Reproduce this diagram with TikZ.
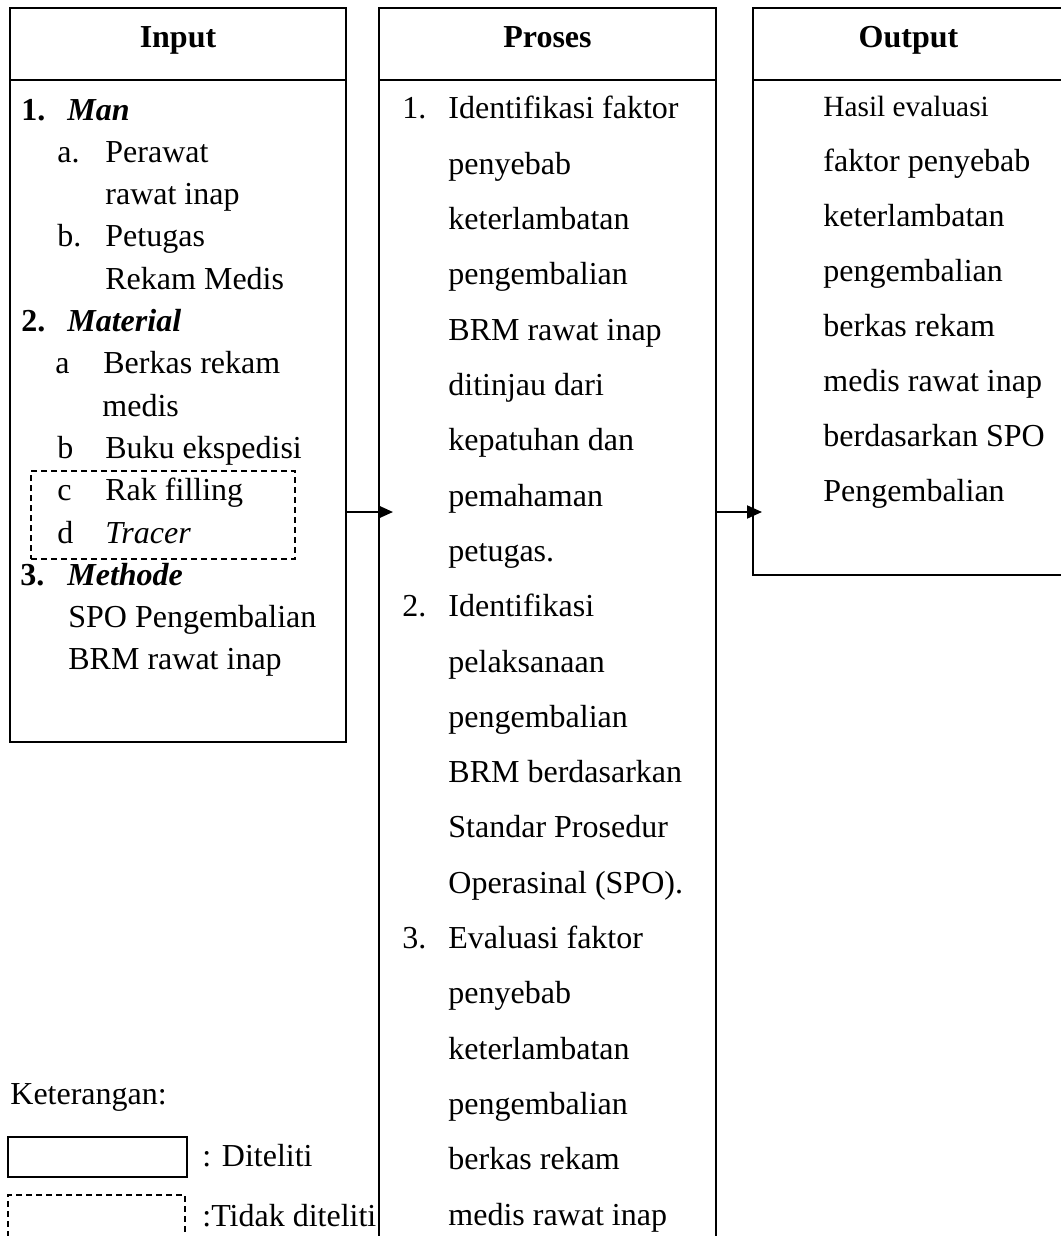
\documentclass[tikz,border=0pt]{standalone}
\usepackage{fontspec}
\setmainfont{Liberation Serif}
\usetikzlibrary{arrows.meta}
\begin{document}
\begin{tikzpicture}[x=0.5pt,y=-0.5pt,
  box/.style={draw, line width=1pt, inner sep=0pt, outer sep=0pt, anchor=north west},
  dbox/.style={draw, line width=0.8pt, dash pattern=on 3pt off 2pt, inner sep=0pt, outer sep=0pt, anchor=north west},
  hline/.style={line width=1pt},
  txt/.style={anchor=base west, inner sep=0pt, font=\fontsize{16}{19}\selectfont},
  smalltxt/.style={anchor=base west, inner sep=0pt, font=\fontsize{14.67}{17}\selectfont},
  hdr/.style={anchor=base, inner sep=0pt, font=\fontsize{16}{19}\selectfont\bfseries},
  arr/.style={line width=1pt, -{Triangle[length=7.5pt,width=6.5pt]}}]
\useasboundingbox (0,0) rectangle (1060,1236);

% main boxes
\node[box, minimum width=168pt, minimum height=367pt] (inbox) at (10,8) {};
\node[box, minimum width=168.5pt, minimum height=626pt] (prbox) at (379,8) {};
\node[box, minimum width=155.5pt, minimum height=283.5pt] (outbox) at (753,8) {};
\draw[hline] ([yshift=-36pt]inbox.north west) -- ([yshift=-36pt]inbox.north east);
\draw[hline] ([yshift=-36pt]prbox.north west) -- ([yshift=-36pt]prbox.north east);
\draw[hline] ([yshift=-36pt]outbox.north west) -- ([yshift=-36pt]outbox.north east);

% headers
\node[hdr] (hin) at (178,48) {Input};
\node[hdr] (hpr) at (547.5,48) {Proses};
\node[hdr] (hout) at (908.5,48) {Output};

% dashed (not studied) box inside input
\node[dbox, minimum width=132pt, minimum height=44pt] (notbox) at (31,471) {};

% input markers
\foreach \i/\xx/\t [count=\n] in {0/21/\textbf{1.}, 1/57/a., 3/57/b., 5/21/\textbf{2.}, 6/55/a, 8/57/b, 9/57/c, 10/57/d, 11/20/\textbf{3.}}
  \node[txt] (inm\n) at (\xx,120+42.3*\i) {\t};
% input texts
\foreach \i/\xx/\t [count=\n] in {0/67/\textbf{\textit{Man}}, 1/105/Perawat, 2/105/rawat inap, 3/105/Petugas, 4/105/Rekam Medis, 5/67/\textbf{\textit{Material}}, 6/103/Berkas rekam, 7/102/medis, 8/105/Buku ekspedisi, 9/105/Rak filling, 10/105/\textit{Tracer}, 11/67/\textbf{\textit{Methode}}, 12/68/SPO Pengembalian, 13/68/BRM rawat inap}
  \node[txt] (int\n) at (\xx,120+42.3*\i) {\t};

% proses markers
\foreach \i/\t [count=\n] in {0/1., 9/2., 15/3.}
  \node[txt] (prm\n) at (402,119+55.3*\i) {\t};
% proses texts
\foreach \t [count=\n from 0] in {Identifikasi faktor, penyebab, keterlambatan, pengembalian, BRM rawat inap, ditinjau dari, kepatuhan dan, pemahaman, petugas., Identifikasi, pelaksanaan, pengembalian, BRM berdasarkan, Standar Prosedur, Operasinal (SPO)., Evaluasi faktor, penyebab, keterlambatan, pengembalian, berkas rekam, medis rawat inap}
  \node[txt] (prt\n) at (448,119+55.3*\n) {\t};

% output texts
\node[smalltxt] (out0) at (823,117) {Hasil evaluasi};
\foreach \t [count=\n] in {faktor penyebab, keterlambatan, pengembalian, berkas rekam, medis rawat inap, berdasarkan SPO, Pengembalian}
  \node[txt] (out\n) at (823,117+54.9*\n) {\t};

% connectors
\coordinate (t1) at (393,512);
\coordinate (t2) at (762,512);
\draw[arr] (inbox.east |- t1) -- (t1);
\draw[arr] (prbox.east |- t2) -- (t2);

% legend
\node[txt] (ket) at (10,1104) {Keterangan:};
\node[box, minimum width=89.5pt, minimum height=20pt] (legsolid) at (8,1137) {};
\node[dbox, minimum width=88.5pt, minimum height=30pt] (legdash) at (8,1195) {};
\node[txt] (legt1) at (202,1166) {: Diteliti};
\node[txt] (legt2) at (202,1226) {:Tidak diteliti};
\end{tikzpicture}
\end{document}
